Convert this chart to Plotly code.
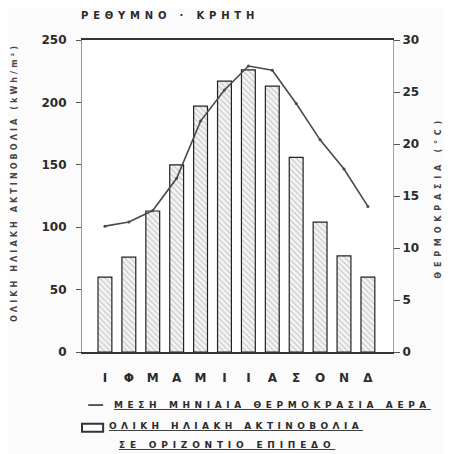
import plotly.graph_objects as go

months = ["Ι", "Φ", "Μ", "Α", "Μ", "Ι", "Ι", "Α", "Σ", "Ο", "Ν", "Δ"]
radiation = [60, 76, 113, 150, 197, 217, 226, 213, 156, 104, 77, 60]
temperature = [12.1, 12.5, 13.6, 16.7, 22.2, 25.2, 27.5, 27.1, 23.9, 20.4, 17.6, 14.0]
left_ticks = [0, 50, 100, 150, 200, 250]
right_ticks = [0, 5, 10, 15, 20, 25, 30]

title_text = "ΡΕΘΥΜΝΟ · ΚΡΗΤΗ"
left_title = "ΟΛΙΚΗ ΗΛΙΑΚΗ ΑΚΤΙΝΟΒΟΛΙΑ (kWh/m²)"
right_title = "ΘΕΡΜΟΚΡΑΣΙΑ (°C)"
legend_line = "ΜΕΣΗ ΜΗΝΙΑΙΑ ΘΕΡΜΟΚΡΑΣΙΑ ΑΕΡΑ"
legend_bar_1 = "ΟΛΙΚΗ ΗΛΙΑΚΗ ΑΚΤΙΝΟΒΟΛΙΑ"
legend_bar_2 = "ΣΕ ΟΡΙΖΟΝΤΙΟ ΕΠΙΠΕΔΟ"

x = list(range(len(months)))
ink = "#2b2b2b"
FONT = "DejaVu Sans"


def spaced(t, px, bold=True, underline=False):
    s = f"<span style='letter-spacing:{px}px'>{t}</span>"
    if underline:
        s = f"<u>{s}</u>"
    if bold:
        s = f"<b>{s}</b>"
    return s


fig = go.Figure()
fig.add_trace(go.Bar(
    x=x, y=radiation, width=0.58, yaxis="y",
    marker=dict(color="#f4f4f4", line=dict(color="#222", width=1.2),
                pattern=dict(shape="\\", fgcolor="#8a8a8a", size=4, solidity=0.25)),
    showlegend=False,
))
fig.add_trace(go.Scatter(
    x=x, y=temperature, yaxis="y2", mode="lines+markers",
    line=dict(color="#4a4a4a", width=1.6), marker=dict(size=3, color="#4a4a4a"),
    showlegend=False,
))

# page has an 8px body margin: figure drawn at (8, 8)
fig.update_layout(
    width=444, height=446,
    margin=dict(l=74, r=59, t=32, b=102),
    paper_bgcolor="#fbfbfb", plot_bgcolor="#ffffff",
    font=dict(family=FONT, color=ink, size=12),
    xaxis=dict(
        range=[-0.96, 12.05], tickvals=x, ticktext=months,
        tickfont=dict(size=12, family=FONT, color=ink, weight="bold"),
        showline=True, linecolor="#333", linewidth=1.5, mirror=True,
        showgrid=False, zeroline=False, ticks="", ticklabelstandoff=14,
    ),
    yaxis=dict(
        range=[0, 250], tickvals=left_ticks,
        tickfont=dict(size=12, family=FONT, color=ink, weight="bold"),
        showline=True, linecolor="#9a9a9a", linewidth=1.2,
        ticks="outside", ticklen=5, tickcolor="#555", ticklabelstandoff=7,
        showgrid=False, zeroline=False,
    ),
    yaxis2=dict(
        range=[0, 30], tickvals=right_ticks, overlaying="y", side="right",
        tickfont=dict(size=12, family=FONT, color=ink, weight="bold"),
        showline=True, linecolor="#a0a0a0", linewidth=1.2,
        ticks="outside", ticklen=6, tickcolor="#555",
        showgrid=False, zeroline=False,
    ),
)

# axis titles
fig.add_annotation(xref="paper", yref="paper", x=-0.215, y=0.542, xanchor="center", yanchor="middle",
                   textangle=-90, text=spaced(left_title, 3.1), showarrow=False,
                   font=dict(size=8, family=FONT, color="#444"))
fig.add_annotation(xref="paper", yref="paper", x=1.145, y=0.495, xanchor="center", yanchor="middle",
                   textangle=-90, text=spaced(right_title, 4.8), showarrow=False,
                   font=dict(size=8, family=FONT, color="#444"))

fig.add_annotation(xref="paper", yref="paper", x=0.283, y=1.08, xanchor="center", yanchor="middle",
                   text=spaced(title_text, 4.8), showarrow=False,
                   font=dict(size=10, family=FONT, color=ink))

# legend
fig.add_shape(type="line", xref="paper", yref="paper", x0=0.02, x1=0.068, y0=-0.17, y1=-0.17,
              line=dict(color="#333", width=1.6))
fig.add_annotation(xref="paper", yref="paper", x=0.6125, y=-0.17, xanchor="center", yanchor="middle",
                   text=spaced(legend_line, 4.6, underline=True), showarrow=False,
                   font=dict(size=9, family=FONT, color=ink))
fig.add_shape(type="rect", xref="paper", yref="paper", x0=0.0, x1=0.068, y0=-0.256, y1=-0.23,
              line=dict(color="#333", width=2), fillcolor="#ffffff")
fig.add_annotation(xref="paper", yref="paper", x=0.495, y=-0.236, xanchor="center", yanchor="middle",
                   text=spaced(legend_bar_1, 4.4, underline=True), showarrow=False,
                   font=dict(size=9, family=FONT, color=ink))
fig.add_annotation(xref="paper", yref="paper", x=0.465, y=-0.297, xanchor="center", yanchor="middle",
                   text=spaced(legend_bar_2, 4.8, underline=True), showarrow=False,
                   font=dict(size=9, family=FONT, color=ink))

fig.write_html("out.html")
